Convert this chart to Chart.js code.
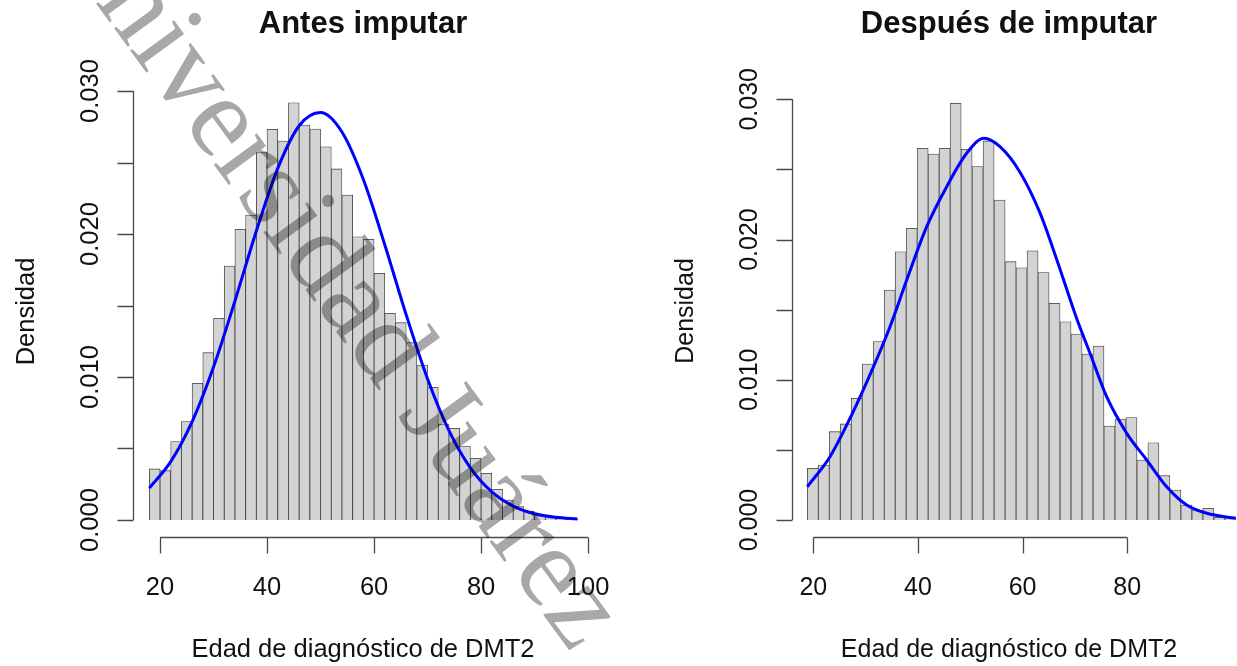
<!DOCTYPE html>
<html>
<head>
<meta charset="utf-8">
<script src="https://cdn.jsdelivr.net/npm/chart.js@4"></script>
<style>
  html, body { margin: 0; padding: 0; background: #fff; }
  #wrap { position: relative; width: 1237px; height: 666px; }
  #wrap canvas { position: absolute; left: 0; top: 0; }
</style>
</head>
<body>
<div id="wrap">
  <canvas id="antes" width="1237" height="666"></canvas>
  <canvas id="despues" width="1237" height="666"></canvas>
</div>
<script>
// histogram bins (midpoints) and densities, before imputation
const antesMid = [19, 21, 23, 25, 27, 29, 31, 33, 35, 37, 39, 41, 43, 45, 47, 49, 51, 53, 55, 57,
                  59, 61, 63, 65, 67, 69, 71, 73, 75, 77, 79, 81, 83, 85, 87, 89, 91, 93, 95, 97];
const antesDens = [0.00357, 0.00345, 0.00548, 0.00688, 0.00956, 0.0117, 0.0141, 0.01776, 0.02033, 0.02133,
                   0.02569, 0.02732, 0.0265, 0.02918, 0.02762, 0.02734, 0.0261, 0.02455, 0.02273, 0.01981,
                   0.01963, 0.01725, 0.01445, 0.0138, 0.0124, 0.01084, 0.00928, 0.00671, 0.00641, 0.00517,
                   0.00431, 0.00326, 0.00214, 0.0014, 0.00093, 0.00058, 0.00035, 0.00023, 0.00012, 0.00005];
// normal curve over the same range
const antesCurveX = [18, 22, 26, 30, 34, 38, 42, 46, 50, 54, 58, 62, 66, 70, 74, 78, 82, 86, 90, 94, 98];
const antesCurveY = [0.00223, 0.00408, 0.00688, 0.0107, 0.01532, 0.02021, 0.02459, 0.02757, 0.02849, 0.02713,
                     0.02381, 0.01925, 0.01435, 0.00986, 0.00625, 0.00364, 0.00196, 0.00097, 0.00044, 0.00019, 0.00007];

// after imputation
const despuesMid = [19.9, 22.0, 24.1, 26.2, 28.3, 30.4, 32.5, 34.6, 36.7, 38.8, 40.9, 43.0, 45.1, 47.2,
                    49.3, 51.4, 53.5, 55.6, 57.7, 59.8, 61.9, 64.0, 66.1, 68.2, 70.3, 72.4, 74.5, 76.6,
                    78.7, 80.8, 82.9, 85.0, 87.1, 89.2, 91.3, 93.4, 95.5, 97.6, 99.7];
const despuesDens = [0.00369, 0.00392, 0.0063, 0.00685, 0.00868, 0.01112, 0.01272, 0.0164, 0.01913, 0.0208,
                     0.02651, 0.0261, 0.02651, 0.02972, 0.02643, 0.0252, 0.02703, 0.02282, 0.01842, 0.01799,
                     0.0192, 0.01764, 0.01545, 0.01414, 0.01326, 0.01184, 0.01241, 0.0067, 0.0072, 0.0073,
                     0.00428, 0.00551, 0.00316, 0.00214, 0.00107, 0.00071, 0.00083, 0.0002, 0.0002];
const despuesCurveX = [18.85, 23.19, 27.34, 31.47, 34.66, 37.85, 41.67, 45.49, 49.31, 52.62, 55.68, 59.5,
                       63.32, 66.5, 70.3, 72.88, 76.06, 79.9, 83.71, 87.53, 91.35, 95.2, 100.7];
const despuesCurveY = [0.00237, 0.00451, 0.0075, 0.0109, 0.01378, 0.01711, 0.02092, 0.02377, 0.02615, 0.02722,
                       0.02662, 0.0248, 0.0219, 0.0186, 0.0144, 0.01189, 0.00879, 0.00618, 0.00428, 0.00237,
                       0.00107, 0.00048, 0.00012];

const yTicks = [0, 0.005, 0.01, 0.015, 0.02, 0.025, 0.03];
const yLabels = [0, 0.01, 0.02, 0.03];
const antesXTicks = [20, 40, 60, 80, 100];
const despuesXTicks = [20, 40, 60, 80];

const SANS = '"Liberation Sans", Arial, sans-serif';
const INK = '#111';
const AXIS = '#4a4a4a';

// R-style axes: detached lines from first to last tick, rotated y labels
function baseAxes(p) {
  return {
    id: 'baseAxes',
    afterDraw(chart) {
      const ctx = chart.ctx;
      const area = chart.chartArea;
      const x = chart.scales.x, y = chart.scales.y;
      const ax = Math.round(area.left) + 0.5;
      const ay = Math.round(area.bottom) + 0.5;
      const tick = 16;

      ctx.save();
      ctx.strokeStyle = AXIS;
      ctx.lineWidth = 1.3;

      // y axis
      ctx.beginPath();
      ctx.moveTo(ax, y.getPixelForValue(yTicks[0]));
      ctx.lineTo(ax, y.getPixelForValue(yTicks[yTicks.length - 1]));
      yTicks.forEach(v => {
        const py = Math.round(y.getPixelForValue(v)) + 0.5;
        ctx.moveTo(ax, py);
        ctx.lineTo(ax - tick, py);
      });
      // x axis
      const xt = p.xTicks;
      ctx.moveTo(x.getPixelForValue(xt[0]), ay);
      ctx.lineTo(x.getPixelForValue(xt[xt.length - 1]), ay);
      xt.forEach(v => {
        const px = Math.round(x.getPixelForValue(v)) + 0.5;
        ctx.moveTo(px, ay);
        ctx.lineTo(px, ay + tick);
      });
      ctx.stroke();

      ctx.fillStyle = INK;
      ctx.font = p.fontSize + 'px ' + SANS;
      ctx.textAlign = 'center';
      ctx.textBaseline = 'alphabetic';

      // x tick labels
      xt.forEach(v => ctx.fillText(String(v), x.getPixelForValue(v), 595));
      // x title
      ctx.fillText('Edad de diagnóstico de DMT2', p.center, 657);

      // y tick labels, rotated
      yLabels.forEach(v => {
        ctx.save();
        ctx.translate(ax - 36, y.getPixelForValue(v));
        ctx.rotate(-Math.PI / 2);
        ctx.fillText(v.toFixed(3), 0, 0);
        ctx.restore();
      });
      // y title
      ctx.save();
      ctx.translate(ax - 100, (area.top + area.bottom) / 2);
      ctx.rotate(-Math.PI / 2);
      ctx.fillText('Densidad', 0, 0);
      ctx.restore();

      // main title
      ctx.font = 'bold 31px ' + SANS;
      ctx.fillText(p.title, p.center, 33);
      ctx.restore();
    }
  };
}

// institutional watermark across the first panel
const watermark = {
  id: 'watermark',
  afterDraw(chart) {
    const ctx = chart.ctx;
    ctx.save();
    ctx.globalCompositeOperation = 'multiply';
    ctx.fillStyle = '#a8a8a8';
    ctx.font = '116px "Liberation Serif", "Times New Roman", serif';
    ctx.translate(45, -66);
    ctx.rotate(53.8 * Math.PI / 180);
    ctx.textAlign = 'left';
    ctx.fillText('Universidad Juárez', 0, 0);
    ctx.restore();
  }
};

function histChart(id, mids, dens, cx, cy, opts, extraPlugins) {
  return new Chart(document.getElementById(id), {
    data: {
      datasets: [
        {
          type: 'line',
          data: cx.map((v, i) => ({ x: v, y: cy[i] })),
          borderColor: '#0000ff',
          borderWidth: 3,
          pointRadius: 0,
          cubicInterpolationMode: 'monotone',
          fill: false,
          order: 0
        },
        {
          type: 'bar',
          data: mids.map((v, i) => ({ x: v, y: dens[i] })),
          backgroundColor: '#d3d3d3',
          borderColor: '#3c3c3c',
          borderWidth: 0.8,
          barPercentage: 1,
          categoryPercentage: 1,
          order: 1
        }
      ]
    },
    options: {
      responsive: false,
      animation: false,
      events: [],
      layout: { padding: opts.padding },
      scales: {
        x: { type: 'linear', offset: false, min: opts.xMin, max: opts.xMax, display: false },
        y: { type: 'linear', min: opts.yMin, max: opts.yMax, display: false }
      },
      plugins: {
        legend: { display: false },
        tooltip: { enabled: false }
      }
    },
    plugins: [baseAxes(opts)].concat(extraPlugins)
  });
}

histChart('antes', antesMid, antesDens, antesCurveX, antesCurveY, {
  title: 'Antes imputar',
  xTicks: antesXTicks,
  center: 363,
  fontSize: 25.5,
  padding: { left: 133, right: 643, top: 86, bottom: 129 },
  xMin: 14.95, xMax: 101.1,
  yMin: -0.001189, yMax: 0.03035
}, [watermark]);

histChart('despues', despuesMid, despuesDens, despuesCurveX, despuesCurveY, {
  title: 'Después de imputar',
  xTicks: despuesXTicks,
  center: 1009,
  fontSize: 25,
  padding: { left: 792, right: 0, top: 85, bottom: 129 },
  xMin: 15.93, xMax: 100.97,
  yMin: -0.001212, yMax: 0.03102
}, []);
</script>
</body>
</html>
